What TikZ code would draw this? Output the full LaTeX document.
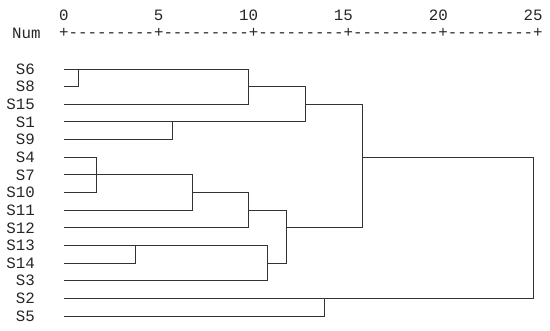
\documentclass[tikz,border=0pt]{standalone}
\usepackage{fontspec}
\setmonofont{Liberation Mono}
\usetikzlibrary{positioning}

\begin{document}
\begin{tikzpicture}[x=1pt, y=-1pt,
    lbl/.style={inner sep=0pt, font=\ttfamily\fontsize{15.8}{18}\selectfont, text=black!85},
    link/.style={black!80, line width=1pt}]
    \useasboundingbox (0,0) rectangle (550,330);

    % --- SCALE ---
    \node[lbl, anchor=west] (num) at (12,33) {Num};
    \node[lbl] (scale) at (301,33) {+---------+---------+---------+---------+---------+};
    \foreach \v in {0,5,...,25}
        \node[lbl, anchor=east] (t\v) at ({68.74+18.96*\v},15) {\v};

    \begin{scope}[y=-17.64pt, yshift=-51.4pt]
        % --- LEAVES ---
        \foreach \s [count=\r] in {S6,S8,S15,S1,S9,S4,S7,S10,S11,S12,S13,S14,S3,S2,S5} {
            \node[lbl, anchor=east] (\s) at (35,\r) {\s};
            \coordinate (\s-in) at (64,\r);
        }

        % --- MERGES ---
        \coordinate (a) at (78,1);
        \coordinate (b) at (248,2);
        \coordinate (c) at (172,4);
        \coordinate (d) at (305,3);
        \coordinate (e) at (96,7);
        \coordinate (f) at (192,8);
        \coordinate (g) at (248,9);
        \coordinate (h) at (135,11);
        \coordinate (i) at (267,12);
        \coordinate (k) at (286,10);
        \coordinate (l) at (362,6);
        \coordinate (n) at (324,14);
        \coordinate (top) at (533,10);

        % --- LINKS ---
        \foreach \from/\to in {S6-in/a, S8-in/a, a/b, S15-in/b, S1-in/c, S9-in/c, b/d, c/d,
                S4-in/e, S7-in/e, S10-in/e, e/f, S11-in/f, f/g, S12-in/g,
                S13-in/h, S14-in/h, h/i, S3-in/i, g/k, i/k, d/l, k/l,
                S2-in/n, S5-in/n, l/top, n/top}
            \draw[link] (\from) -| (\to);
    \end{scope}
\end{tikzpicture}
\end{document}
